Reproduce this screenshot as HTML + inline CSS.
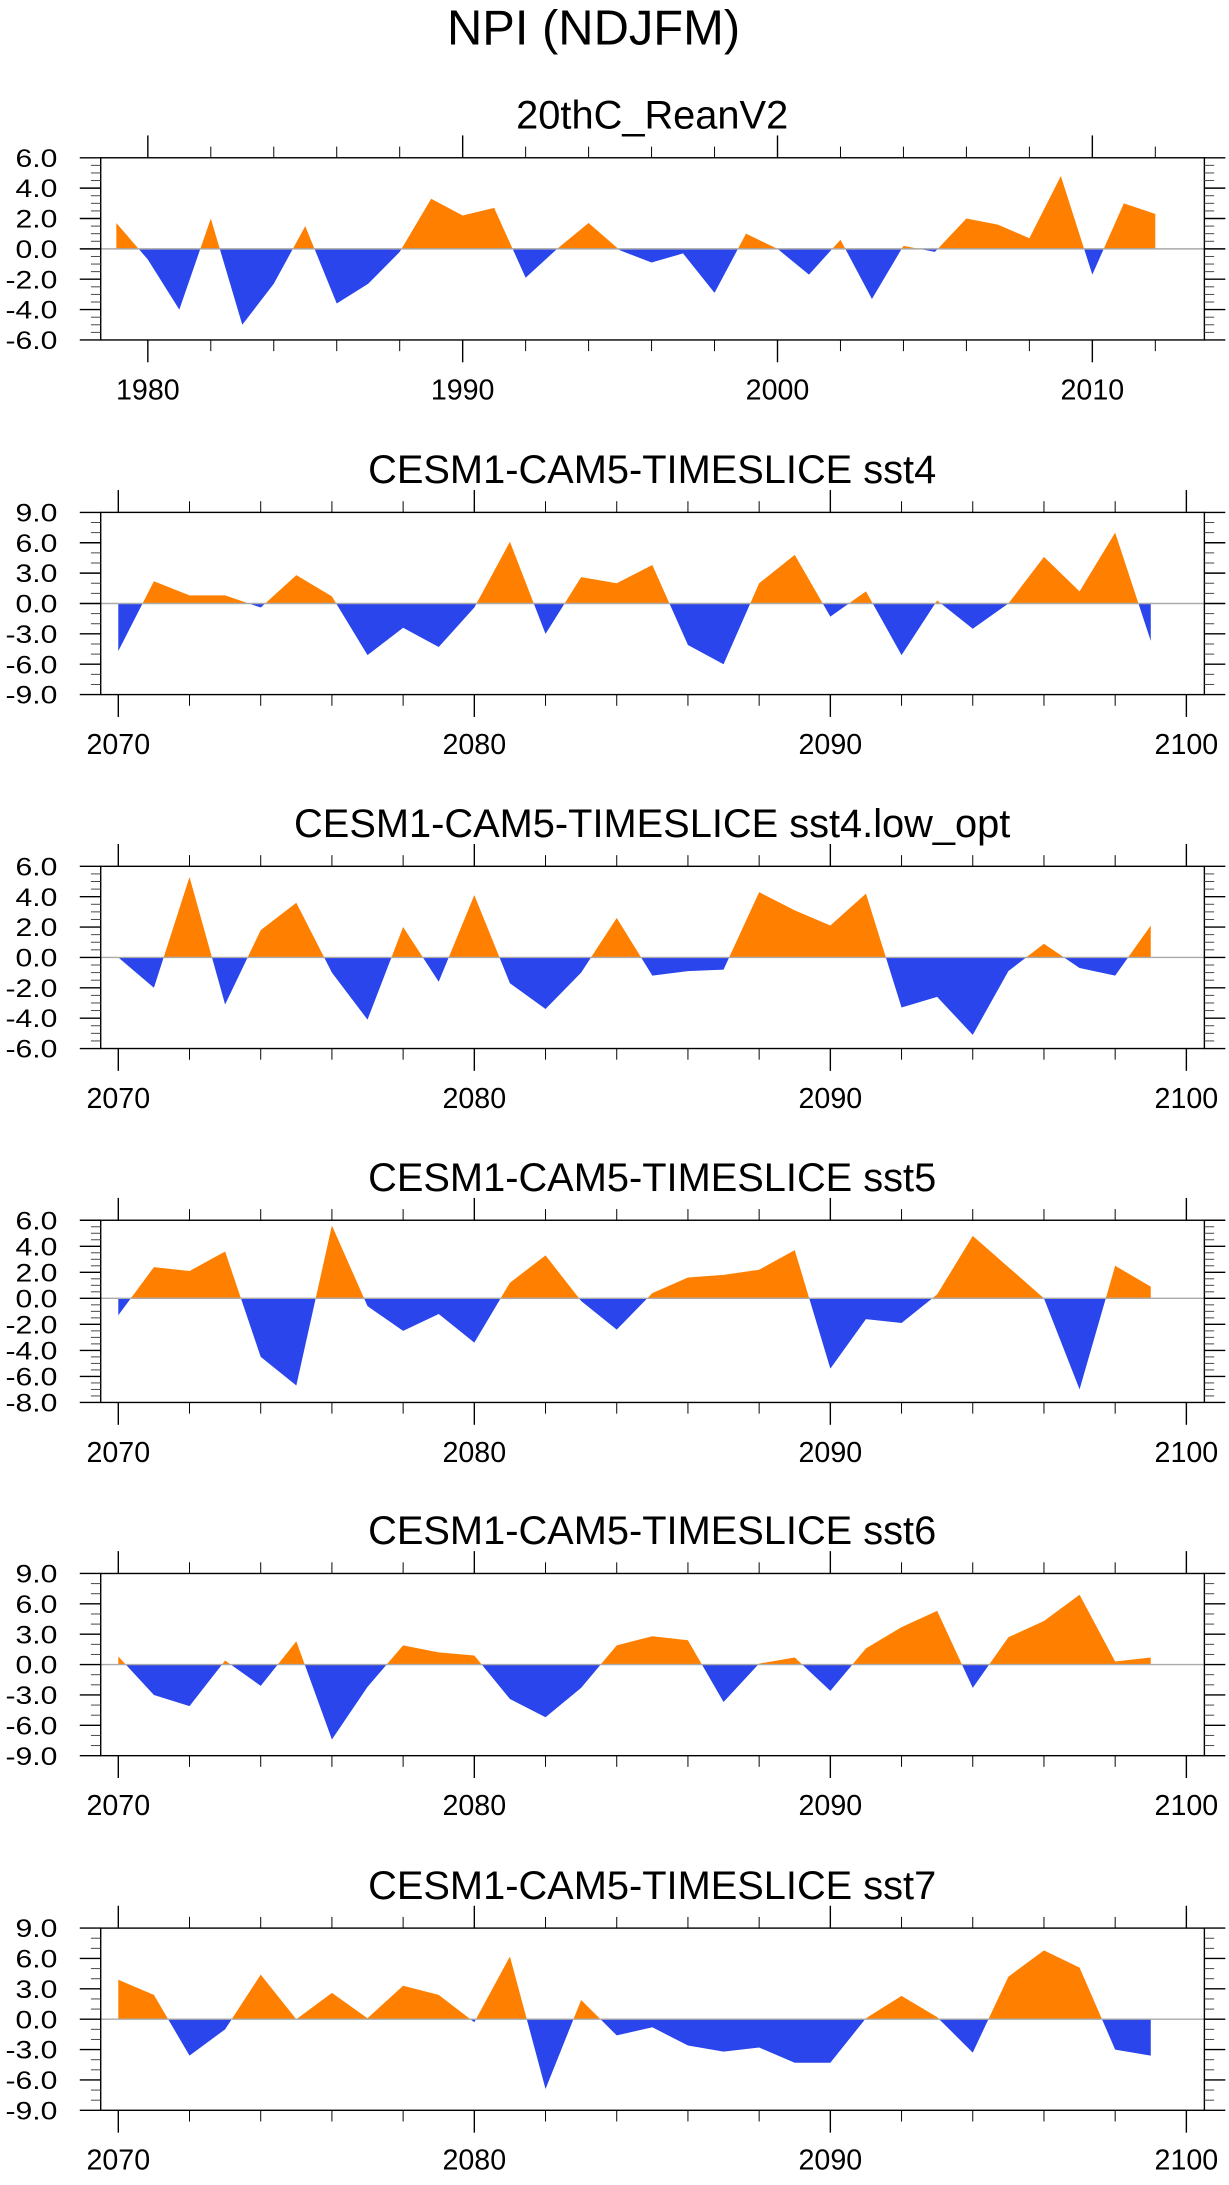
<!DOCTYPE html>
<html><head><meta charset="utf-8"><style>
html,body{margin:0;padding:0;background:#fff;}
svg{display:block;font-family:"Liberation Sans",sans-serif;}
</style></head><body>
<svg id="chart" width="1229" height="2185" viewBox="0 0 880 1565" xmlns="http://www.w3.org/2000/svg">
<text x="425" y="32" font-size="35" text-anchor="middle">NPI (NDJFM)</text>
</svg>
<script>
const titles = ["20thC_ReanV2","CESM1-CAM5-TIMESLICE sst4","CESM1-CAM5-TIMESLICE sst4.low_opt","CESM1-CAM5-TIMESLICE sst5","CESM1-CAM5-TIMESLICE sst6","CESM1-CAM5-TIMESLICE sst7"];
const startYears = [1979,2070,2070,2070,2070,2070];
const xTickYears = [[1980,1990,2000,2010],[2070,2080,2090,2100],[2070,2080,2090,2100],[2070,2080,2090,2100],[2070,2080,2090,2100],[2070,2080,2090,2100]];
const yRanges = [[-6,6],[-9,9],[-6,6],[-8,6],[-9,9],[-9,9]];
const yTickSteps = [2,3,2,2,3,3];
const series0 = [1.7,-0.7,-4.0,2.0,-5.0,-2.3,1.5,-3.6,-2.3,-0.2,3.3,2.2,2.7,-1.9,0.0,1.7,-0.1,-0.9,-0.3,-2.9,1.0,0.0,-1.7,0.6,-3.3,0.2,-0.2,2.0,1.6,0.7,4.8,-1.7,3.0,2.3];
const series1 = [-4.7,2.2,0.8,0.8,-0.4,2.8,0.7,-5.1,-2.4,-4.3,-0.4,6.1,-3.0,2.6,2.0,3.8,-4.1,-6.0,2.0,4.8,-1.3,1.2,-5.1,0.3,-2.5,0.0,4.6,1.2,7.0,-3.7];
const series2 = [0.0,-2.0,5.3,-3.1,1.8,3.6,-1.0,-4.1,2.0,-1.6,4.1,-1.7,-3.4,-1.0,2.6,-1.2,-0.9,-0.8,4.3,3.1,2.1,4.2,-3.3,-2.6,-5.1,-0.9,0.9,-0.7,-1.2,2.1];
const series3 = [-1.3,2.4,2.1,3.6,-4.5,-6.7,5.6,-0.6,-2.5,-1.2,-3.4,1.2,3.3,-0.2,-2.4,0.4,1.6,1.8,2.2,3.7,-5.4,-1.6,-1.9,0.3,4.8,2.4,0.0,-7.0,2.5,0.9];
const series4 = [0.8,-3.0,-4.1,0.4,-2.1,2.3,-7.4,-2.2,1.9,1.2,0.9,-3.4,-5.2,-2.3,1.9,2.8,2.4,-3.7,0.1,0.7,-2.6,1.6,3.7,5.3,-2.3,2.7,4.3,6.9,0.3,0.7];
const series5 = [3.9,2.4,-3.6,-1.0,4.4,0.0,2.6,0.1,3.3,2.4,-0.3,6.2,-6.9,1.9,-1.6,-0.8,-2.6,-3.2,-2.8,-4.3,-4.3,0.1,2.3,0.2,-3.3,4.2,6.8,5.1,-3.0,-3.6];
const allSeries = [series0,series1,series2,series3,series4,series5];

const NS = "http://www.w3.org/2000/svg";
const svg = document.getElementById("chart");
function mk(tag, attrs, parent){const e=document.createElementNS(NS,tag);for(const k in attrs)e.setAttribute(k,attrs[k]);(parent||svg).appendChild(e);return e;}
const boxTops = [113,367,620.5,874,1127,1381];
const BH = 130.5, BL = 72, BR = 862.5;

for(let p=0;p<6;p++){
  const top = boxTops[p], bot = top+BH;
  const y0 = yRanges[p][0], y1 = yRanges[p][1];
  const s0 = startYears[p];
  const pxYr = p===0 ? 22.55 : 25.5;
  const firstX = p===0 ? 83.2 : 84.6;
  const xs = yr => firstX + (yr - s0)*pxYr;
  const ys = v => bot - (v - y0)/(y1 - y0)*BH;
  const g = mk("g",{});
  
  
  const t = mk("text",{x:467,y:top-21,"font-size":28.5,"text-anchor":"middle"},g);
  t.textContent = titles[p];
  
  
  const data = allSeries[p];
  const zy = ys(0);
  let d = "M"+xs(s0)+","+zy;
  data.forEach((v,i)=>{d+=" L"+xs(s0+i)+","+ys(v);});
  d += " L"+xs(s0+data.length-1)+","+zy+" Z";
  const cidA="ca"+p, cidB="cb"+p;
  const defs = mk("defs",{},g);
  const ca = mk("clipPath",{id:cidA},defs); mk("rect",{x:0,y:top,width:880,height:zy-top},ca);
  const cb = mk("clipPath",{id:cidB},defs); mk("rect",{x:0,y:zy,width:880,height:bot-zy},cb);
  const pa = mk("path",{d:d,fill:"#ff8000","clip-path":"url(#"+cidA+")"},g);
  
  
  const pb = mk("path",{d:d,fill:"#2a45ec","clip-path":"url(#"+cidB+")"},g);
  
  
  mk("line",{x1:BL,x2:BR,y1:zy,y2:zy,stroke:"#aaa","stroke-width":1},g);
  mk("rect",{x:BL,y:top,width:BR-BL,height:BH,fill:"none",stroke:"#000","stroke-width":1},g);
  // y ticks
  const step = yTickSteps[p], minor = step===2 ? 0.5 : 1;
  for(let v=y0; v<=y1+1e-6; v+=minor){
    const yy = ys(v);
    const isMaj = Math.abs(Math.round(v/step)*step - v) < 1e-6;
    const L = isMaj?15:7;
    mk("line",{x1:BL-L,x2:BL,y1:yy,y2:yy,stroke:isMaj?"#000":"#444","stroke-width":isMaj?1:0.7},g);
    mk("line",{x1:BR,x2:BR+L,y1:yy,y2:yy,stroke:isMaj?"#000":"#444","stroke-width":isMaj?1:0.7},g);
    if(isMaj){
      const lt = mk("text",{x:0,y:0,"font-size":18,"text-anchor":"end",transform:"translate(41,"+(yy+6.5)+") scale(1.2,1)"},g);
      lt.textContent = (Math.abs(v)<1e-6?0:v).toFixed(1);
      
      
    }
  }
  // x ticks
  const yStart = xTickYears[p][0];
  for(let yr=yStart-2; yr<=yStart+40; yr+=2){
    const xx = xs(yr);
    if(xx<BL-0.5||xx>BR+0.5) continue;
    const isMaj = (yr - yStart)%10===0;
    const L = isMaj?16:8;
    mk("line",{x1:xx,x2:xx,y1:bot,y2:bot+L,stroke:"#000","stroke-width":isMaj?1:0.7},g);
    mk("line",{x1:xx,x2:xx,y1:top-L,y2:top,stroke:"#000","stroke-width":isMaj?1:0.7},g);
  }
  xTickYears[p].forEach(yr=>{
    const xl = mk("text",{x:xs(yr),y:bot+42.5,"font-size":20.5,"text-anchor":"middle"},g);
    xl.textContent = yr;
    
    
  });
}
</script>
</body></html>
